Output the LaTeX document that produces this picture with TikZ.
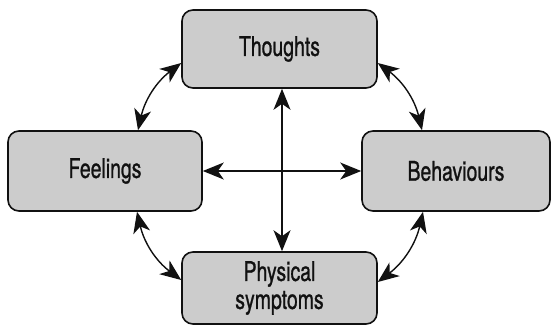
\documentclass[tikz,border=0pt]{standalone}
\usepackage{fontspec}
\setmainfont[FakeStretch=0.72,FakeBold=0.9]{TeX Gyre Heros}
\usetikzlibrary{arrows.meta}
\definecolor{boxfill}{HTML}{CCCCCC}
\definecolor{ink}{HTML}{111111}
\tikzset{
  stage/.style={draw=ink, line width=1.6pt, fill=boxfill, rounded corners=11pt,
    minimum width=#1, minimum height=78pt, inner sep=0pt, align=center,
    font=\fontsize{27}{28}\selectfont, text=ink},
  link/.style={draw=ink, line width=1.4pt,
    {Stealth[length=21pt,width=17pt,inset=6pt]}-{Stealth[length=21pt,width=17pt,inset=6pt]}}
}
\begin{document}
\begin{tikzpicture}[x=1pt,y=-1pt]
  \useasboundingbox (0,0) rectangle (552,325);
  % the four stages
  \node[stage=195pt] (thoughts) at (279.5,49) {Thoughts};
  \node[stage=194pt, minimum height=80pt] (feelings) at (105,171) {Feelings};
  \node[stage=188pt, minimum height=80pt] (behaviours) at (456,171) {Behaviours};
  \node[stage=195pt, minimum height=72pt] (physical) at (279.5,288) {Physical\\symptoms};
  % central cross
  \draw[link] (feelings.east) -- (behaviours.west);
  \draw[link] ([xshift=2.5pt]thoughts.south) -- ([xshift=2.5pt]physical.north);
  % links around the cycle
  \draw[link] ([xshift=33pt]feelings.north) to[bend left=20] ([yshift=-14pt]thoughts.west);
  \draw[link] ([yshift=-14pt]thoughts.east) to[bend left=20] ([xshift=-34pt]behaviours.north);
  \draw[link] ([xshift=-33pt]behaviours.south) to[bend left=20] ([yshift=6pt]physical.east);
  \draw[link] ([yshift=8pt]physical.west) to[bend left=20] ([xshift=32pt]feelings.south);
\end{tikzpicture}
\end{document}
